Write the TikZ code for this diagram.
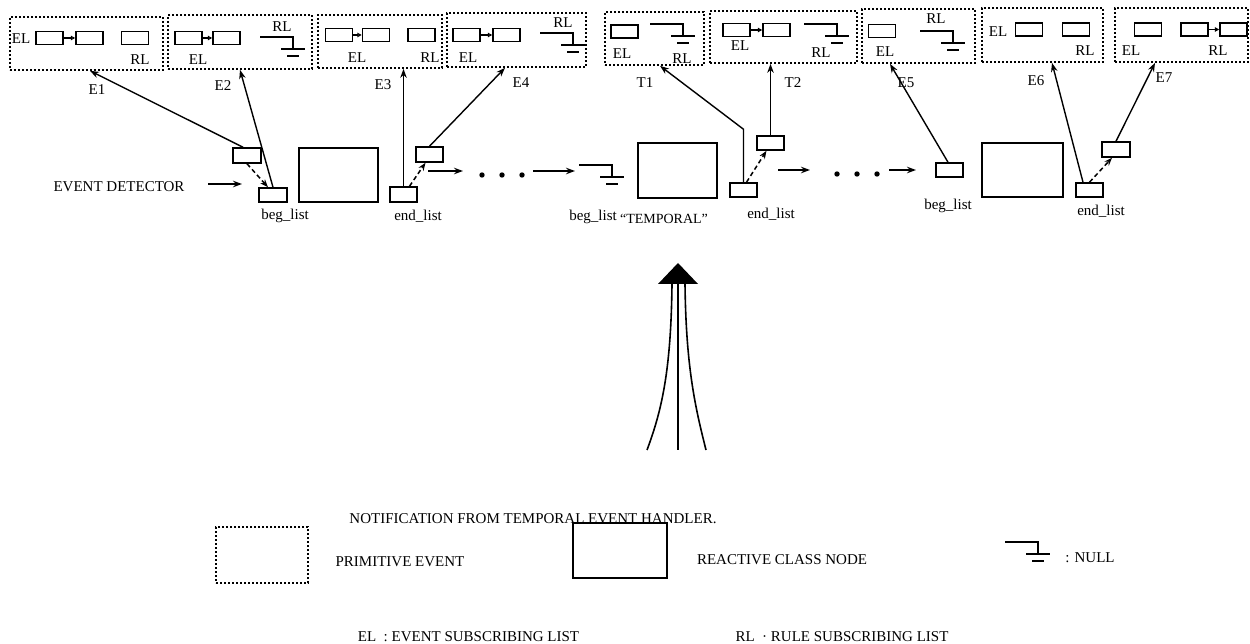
\documentclass[tikz,border=0pt]{standalone}
\usepackage{fontspec}
\setmainfont{Liberation Serif}
\usetikzlibrary{arrows.meta,calc}
\tikzset{
  ebox/.style={draw, line width=1.7pt, dash pattern=on 1.6pt off 2.4pt, inner sep=0pt},
  cell/.style={draw, line width=1.5pt, minimum width=27, minimum height=13, inner sep=0pt},
  bigbox/.style={draw, line width=1.6pt, inner sep=0pt},
  lbl/.style={font=\fontsize{15}{18}\selectfont, inner sep=0pt},
  conn/.style={line width=1.4pt, -{Stealth[length=9pt,width=6.5pt]}},
  dconn/.style={line width=1.5pt, dash pattern=on 4.5pt off 3pt, -{Stealth[length=8pt,width=6pt]}},
  link/.style={line width=1.3pt, -{Triangle[open,length=4.5pt,width=4.5pt]}},
  flink/.style={line width=1.3pt, -{Triangle[length=4.5pt,width=4.5pt]}},
  nullsym/.pic={\draw[line width=1.5pt] (-33,0) -- (0,0) -- (0,12) (-12,12) -- (12,12) (-6,19) -- (6,19);}
}
\begin{document}
\begin{tikzpicture}[x=1pt,y=-1pt]
\useasboundingbox (0,0) rectangle (1250,644);

% ---------- top: primitive event boxes ----------
\node[ebox, minimum width=153, minimum height=53] (e1) at (86.5,43.5) {};
\node[ebox, minimum width=144, minimum height=54] (e2) at (240,42) {};
\node[ebox, minimum width=124, minimum height=53] (e3) at (380,41.5) {};
\node[ebox, minimum width=139, minimum height=54] (e4) at (516.5,40) {};
\node[ebox, minimum width=99, minimum height=53] (t1) at (654.5,38.5) {};
\node[ebox, minimum width=147, minimum height=52] (t2) at (783.5,37) {};
\node[ebox, minimum width=113, minimum height=54] (e5) at (918.5,36) {};
\node[ebox, minimum width=121, minimum height=54] (e6) at (1042.5,35) {};
\node[ebox, minimum width=133, minimum height=54] (e7) at (1181.5,35) {};

% cells
\node[cell] (e1a) at (49.5,38) {};
\node[cell] (e1b) at (89.5,38) {};
\node[cell] (e1c) at (135,38) {};
\draw[link] (e1a.east) -- (e1b.west);
\node[cell] (e2a) at (188.5,38) {};
\node[cell] (e2b) at (226.5,38) {};
\draw[link] (e2a.east) -- (e2b.west);
\pic at (293,37) {nullsym};
\node[cell] (e3a) at (339,35) {};
\node[cell] (e3b) at (376,35) {};
\node[cell] (e3c) at (421.5,35) {};
\draw[link] (e3a.east) -- (e3b.west);
\node[cell] (e4a) at (466.5,35) {};
\node[cell] (e4b) at (506.5,35) {};
\draw[link] (e4a.east) -- (e4b.west);
\pic at (573,33) {nullsym};
\node[cell] (t1a) at (624.5,31.5) {};
\pic at (683,24) {nullsym};
\node[cell] (t2a) at (736.5,30) {};
\node[cell] (t2b) at (776.5,30) {};
\draw[flink] (t2a.east) -- (t2b.west);
\pic at (837,24) {nullsym};
\node[cell] (e5a) at (882,31) {};
\pic at (953,31) {nullsym};
\node[cell] (e6a) at (1029,29.5) {};
\node[cell] (e6b) at (1076,29.5) {};
\node[cell] (e7a) at (1148,29.5) {};
\node[cell] (e7b) at (1194.5,29.5) {};
\node[cell] (e7c) at (1233.5,29.5) {};
\draw[flink] (e7b.east) -- (e7c.west);

% labels in boxes
\node[lbl] (l1el) at (21,39) {EL};
\node[lbl] (l1rl) at (140,60) {RL};
\node[lbl] (l1) at (97,90) {E1};
\node[lbl] (l2el) at (198,60) {EL};
\node[lbl] (l2rl) at (282,27) {RL};
\node[lbl] (l2) at (223,86) {E2};
\node[lbl] (l3el) at (357,58) {EL};
\node[lbl] (l3rl) at (430,58) {RL};
\node[lbl] (l3) at (383,85) {E3};
\node[lbl] (l4el) at (468,58) {EL};
\node[lbl] (l4rl) at (563,23) {RL};
\node[lbl] (l4) at (521,83) {E4};
\node[lbl] (lt1el) at (622,54) {EL};
\node[lbl] (lt1rl) at (682,59) {RL};
\node[lbl] (lt1) at (645,83) {T1};
\node[lbl] (lt2el) at (740,46) {EL};
\node[lbl] (lt2rl) at (821,53) {RL};
\node[lbl] (lt2) at (793,83) {T2};
\node[lbl] (l5el) at (885,52) {EL};
\node[lbl] (l5rl) at (936,19) {RL};
\node[lbl] (l5) at (906,83) {E5};
\node[lbl] (l6el) at (998,32) {EL};
\node[lbl] (l6rl) at (1085,51) {RL};
\node[lbl] (l6) at (1036,81) {E6};
\node[lbl] (l7el) at (1131,51) {EL};
\node[lbl] (l7rl) at (1218,51) {RL};
\node[lbl] (l7) at (1164,78) {E7};

% ---------- middle row ----------
\node[lbl] (ed) at (119,187) {EVENT DETECTOR};
\coordinate (eds) at (208,184);
\coordinate (ede) at (242,184);
\draw[conn] (eds) -- (ede);

\node[cell, minimum width=28, minimum height=15] (pa) at (247,155.5) {};
\node[cell, minimum width=28, minimum height=14] (beg1) at (273,195) {};
\node[bigbox, minimum width=79, minimum height=54] (big1) at (338.5,175) {};
\node[cell, minimum width=27, minimum height=15] (end1) at (403.5,194.5) {};
\node[cell, minimum width=27, minimum height=15] (pb) at (429.5,154.5) {};
\node[lbl] (lbeg1) at (285,216) {beg\_list};
\node[lbl] (lend1) at (418,216) {end\_list};

\draw[conn] ([xshift=-4pt]pa.north) -- ([xshift=3.5pt]e1.south);
\draw[conn] (beg1.north) -- (e2.south);
\draw[dconn] (pa.south) -- ([xshift=-5pt]beg1.north);
\draw[conn] (end1.north) -- (end1.north |- e3.south);
\draw[conn] (pb.north) -- ([xshift=-11.5pt]e4.south);
\draw[dconn] ([xshift=6pt]end1.north) -- ([xshift=-4pt]pb.south);

\coordinate (h1s) at (428,171);
\coordinate (h1e) at (463,171);
\draw[conn] (h1s) -- (h1e);
\fill (482,175) circle (2.7pt) (502,175) circle (2.7pt) (522,175) circle (2.7pt);
\coordinate (h2s) at (533,171);
\coordinate (h2e) at (575,171);
\draw[conn] (h2s) -- (h2e);

\pic at (612,165) {nullsym};
\node[bigbox, minimum width=79, minimum height=55] (bigT) at (677.5,170.5) {};
\node[cell, minimum width=27, minimum height=14] (endT) at (743.5,190) {};
\node[cell, minimum width=27, minimum height=14] (pc) at (770.5,143) {};
\node[lbl] (lbegT) at (593,217) {beg\_list};
\node[lbl, font=\fontsize{14}{17}\selectfont] (ltemp) at (664,219) {``TEMPORAL''};
\node[lbl] (lendT) at (771,214) {end\_list};

\draw[conn] (endT.north) -- ++(0,-53) -- ([xshift=5.5pt]t1.south);
\draw[conn] (pc.north) -- (pc.north |- t2.south);
\draw[dconn] ([xshift=3pt]endT.north) -- ([xshift=-4pt]pc.south);

\coordinate (h3s) at (778,170);
\coordinate (h3e) at (810,170);
\draw[conn] (h3s) -- (h3e);
\fill (837,174) circle (2.7pt) (857,174) circle (2.7pt) (877,174) circle (2.7pt);
\coordinate (h4s) at (889,170);
\coordinate (h4e) at (916,170);
\draw[conn] (h4s) -- (h4e);

\node[cell, minimum width=27, minimum height=14] (beg5) at (949.5,170) {};
\node[bigbox, minimum width=81, minimum height=54] (big5) at (1022.5,170) {};
\node[cell, minimum width=27, minimum height=14] (end67) at (1089.5,190) {};
\node[cell, minimum width=28, minimum height=15] (pd) at (1116,149.5) {};
\node[lbl] (lbeg5) at (948,206) {beg\_list};
\node[lbl] (lend67) at (1101,211) {end\_list};

\draw[conn] ([xshift=-1.5pt]beg5.north) -- ([xshift=-28.5pt]e5.south);
\draw[conn] ([xshift=-6.5pt]end67.north) -- ([xshift=9.5pt]e6.south);
\draw[conn] (pd.north) -- ([xshift=-26.5pt]e7.south);
\draw[dconn] (end67.north) -- ([xshift=-4pt]pd.south);

% ---------- notification arrow ----------
\fill (658,284) -- (698,284) -- (678,263) -- cycle;
\draw[line width=1.6pt] (678,284) -- (678,450);
\draw[line width=1.6pt] (672,284) .. controls (671,370) and (662,410) .. (647,450);
\draw[line width=1.6pt] (685,284) .. controls (686,370) and (696,410) .. (706,450);
\node[lbl] (notif) at (533,519) {NOTIFICATION FROM TEMPORAL EVENT HANDLER.};

% ---------- legend ----------
\node[ebox, minimum width=92, minimum height=56] (lgp) at (262,555) {};
\node[lbl] (lgpt) at (400,562) {PRIMITIVE EVENT};
\node[bigbox, minimum width=94, minimum height=55] (lgr) at (620,550.5) {};
\node[lbl] (lgrt) at (782,560) {REACTIVE CLASS NODE};
\pic at (1038,542) {nullsym};
\node[lbl] (lgnt) at (1090,558) {: NULL};
\node[lbl] (lgel) at (468.5,637) {EL\ \ : EVENT SUBSCRIBING LIST};
\node[lbl] (lgrl) at (842,637) {RL\ \ · RULE SUBSCRIBING LIST};
\end{tikzpicture}
\end{document}
